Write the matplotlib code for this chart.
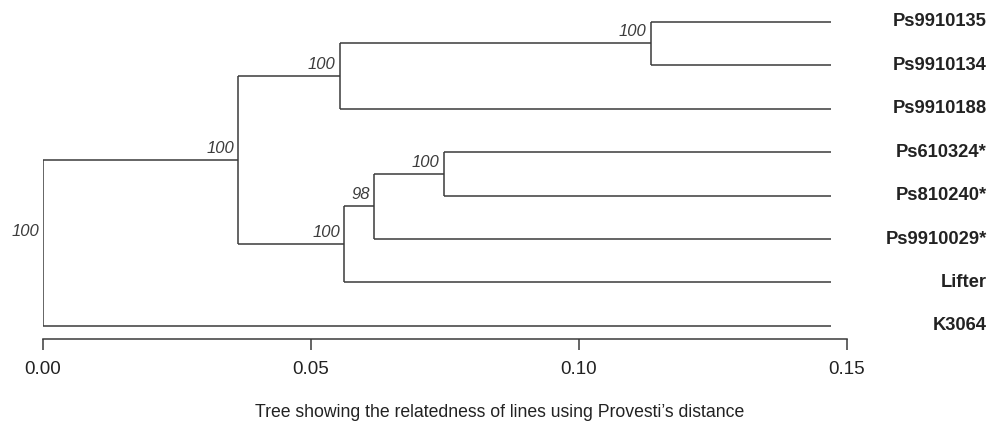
import matplotlib
matplotlib.use("Agg")
import matplotlib.pyplot as plt

plt.rcParams['font.family'] = ['Liberation Sans', 'DejaVu Sans']

# ---- data ----
leaf_names = ["Ps9910135", "Ps9910134", "Ps9910188", "Ps610324*",
              "Ps810240*", "Ps9910029*", "Lifter", "K3064"]
leaf_depth = 0.147
# internal nodes: (child_a, child_b, depth from root, bootstrap support)
# children: int -> leaf index, str -> node name
node_names = ["n1", "n2", "n3", "n4", "n5", "n6", "root"]
node_children = [(0, 1), ("n1", 2), (3, 4), ("n3", 5), ("n4", 6), ("n2", "n5"), ("n6", 7)]
node_depth = [0.1134, 0.0554, 0.0748, 0.0618, 0.0562, 0.0364, 0.0]
node_support = [100, 100, 100, 98, 100, 100, 100]
xticks = [0.00, 0.05, 0.10, 0.15]
xtick_labels = ["0.00", "0.05", "0.10", "0.15"]
title = "Tree showing the relatedness of lines using Provesti\u2019s distance"

# ---- layout ----
W, H = 992, 423
fig = plt.figure(figsize=(W / 100, H / 100), dpi=100)
ax = fig.add_axes([43 / W, (H - 339) / H, (847 - 43) / W, 339 / H])
ax.set_xlim(0, 0.15)
ax.set_ylim(7.3, -0.5)

color = "#3a3a3a"
lw = 1.1

pos = {}
depth = {}
for i in range(len(leaf_names)):
    pos[i] = float(i)
    depth[i] = leaf_depth
for name, (a, b), d in zip(node_names, node_children, node_depth):
    pos[name] = (pos[a] + pos[b]) / 2
    depth[name] = d

for name, (a, b), d, s in zip(node_names, node_children, node_depth, node_support):
    y = pos[name]
    ax.plot([d, d], [pos[a], pos[b]], color=color, lw=lw, solid_capstyle='butt')
    for c in (a, b):
        ax.plot([d, depth[c]], [pos[c], pos[c]], color=color, lw=lw, solid_capstyle='butt')
    ax.annotate(str(s), xy=(d, y), xytext=(-3, 3), textcoords='offset points',
                ha='right', va='bottom', fontsize=12, style='italic', color="#3c3c3c",
                annotation_clip=False)

for i, n in enumerate(leaf_names):
    ax.annotate(n, xy=(0.15, i), xycoords='data', xytext=(987 - 847, 0),
                textcoords='offset pixels', ha='right', va='center',
                fontsize=13.2, fontweight='bold', color="#222222",
                annotation_clip=False)

for s in ['top', 'right', 'left']:
    ax.spines[s].set_visible(False)
ax.spines['bottom'].set_color(color)
ax.spines['bottom'].set_linewidth(lw)
ax.set_yticks([])
ax.set_xticks(xticks)
ax.set_xticklabels(xtick_labels)
ax.tick_params(axis='x', length=8, width=lw, color=color, labelsize=13.5,
               labelcolor="#222222", pad=8)
fig.text(500 / W, 1 - 412 / H, title, fontsize=12.7, color="#222222",
         ha='center', va='center')

fig.savefig("out.png", dpi=100)
